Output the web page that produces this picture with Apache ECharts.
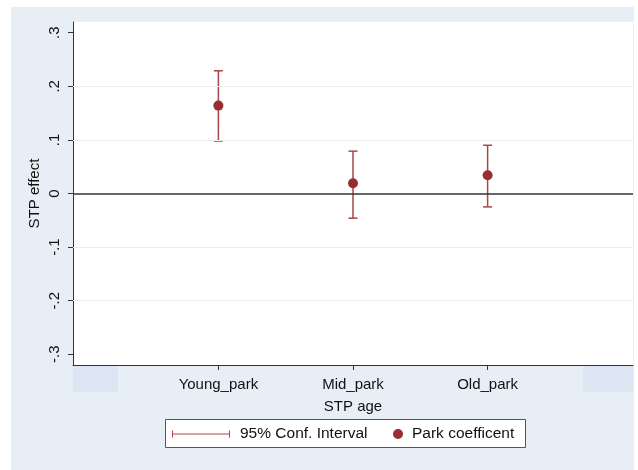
<!DOCTYPE html>
<html>
<head>
<meta charset="utf-8">
<script src="https://cdn.jsdelivr.net/npm/echarts@6/dist/echarts.min.js"></script>
<style>
  html, body { margin: 0; padding: 0; background: #ffffff; }
  #wrap { position: relative; width: 638px; height: 470px; }
  #panel { position: absolute; left: 11px; top: 7px; width: 623px; height: 463px; background: #e8eef6; }
  #chart { position: absolute; left: 0; top: 0; width: 638px; height: 470px; }
</style>
</head>
<body>
<div id="wrap">
  <div id="panel"></div>
  <div id="chart"></div>
</div>
<script>
// Park age groups and their estimated STP effect with 95% confidence bounds
const categories = ['Young_park', 'Mid_park', 'Old_park'];
const xPos = [1, 2, 3];
const coef = [0.164, 0.019, 0.034];
const ciLow = [0.098, -0.046, -0.025];
const ciHigh = [0.229, 0.079, 0.090];
const yTicks = [-0.3, -0.2, -0.1, 0, 0.1, 0.2, 0.3];
const gridVals = [-0.2, -0.1, 0.1, 0.2];

const FONT = 'Liberation Sans, Arial, sans-serif';
const RED = '#962d32';
const CI_RED = '#a9454b';
const FS = 15;

function fmtY(v) {
  const r = Math.round(v * 10) / 10;
  if (r === 0) return '0';
  const s = Math.abs(r).toString().replace(/^0/, '');
  return (r < 0 ? '-' : '') + s;
}

const chart = echarts.init(document.getElementById('chart'), null, { renderer: 'canvas' });

const ciData = xPos.map((x, i) => [x, ciLow[i], ciHigh[i]]);
const pointData = xPos.map((x, i) => [x, coef[i]]);

chart.setOption({
  backgroundColor: 'transparent',
  animation: false,
  textStyle: { fontFamily: FONT },
  grid: {
    left: 73, top: 22, right: 5, bottom: 105,
    show: true, backgroundColor: '#ffffff', borderWidth: 0
  },
  xAxis: {
    type: 'value',
    min: -0.08, max: 4.08,
    name: 'STP age',
    nameLocation: 'middle',
    nameGap: 34,
    nameMoveOverlap: false,
    nameTextStyle: { fontSize: FS, color: '#111', fontFamily: FONT },
    axisLine: { show: true, onZero: false, lineStyle: { color: '#333', width: 1 } },
    axisTick: { show: true, customValues: xPos, length: 5, lineStyle: { color: '#333' } },
    axisLabel: {
      customValues: xPos,
      margin: 12,
      fontSize: FS, color: '#111', fontFamily: FONT,
      formatter: v => categories[Math.round(v) - 1] || ''
    },
    splitLine: { show: false }
  },
  yAxis: {
    type: 'value',
    min: -0.32, max: 0.32,
    name: 'STP effect',
    nameLocation: 'middle',
    nameGap: 31,
    nameMoveOverlap: false,
    nameRotate: 90,
    nameTextStyle: { fontSize: FS, color: '#111', fontFamily: FONT },
    axisLine: { show: true, onZero: false, lineStyle: { color: '#333', width: 1 } },
    axisTick: { show: true, customValues: yTicks, length: 5, lineStyle: { color: '#333' } },
    axisLabel: {
      customValues: yTicks,
      rotate: 90,
      margin: 11,
      fontSize: FS, color: '#111', fontFamily: FONT,
      formatter: fmtY
    },
    splitLine: { show: false }
  },
  graphic: [
    // shaded bands under the plot edges
    { type: 'rect', shape: { x: 73, y: 366, width: 45, height: 26 }, style: { fill: '#dce6f2' }, silent: true },
    { type: 'rect', shape: { x: 583, y: 366, width: 50, height: 26 }, style: { fill: '#dce6f2' }, silent: true },
    // legend frame
    { type: 'rect', shape: { x: 165.5, y: 419.5, width: 360, height: 28 }, style: { fill: '#ffffff', stroke: '#555', lineWidth: 1 }, silent: true }
  ],
  legend: [
    {
      left: 172, top: 426,
      padding: 0,
      itemWidth: 58, itemHeight: 7,
      data: [{ name: '95% Conf. Interval', icon: 'path://M0,0H1V7H0Z M0,3H58V4H0Z M57,0H58V7H57Z' }],
      textStyle: { fontSize: 15.5, color: '#111', fontFamily: FONT, padding: [0, 0, 0, 5] },
      selectedMode: false
    },
    {
      left: 393, top: 426,
      padding: 0,
      itemWidth: 10, itemHeight: 10,
      data: [{ name: 'Park coefficent', icon: 'circle' }],
      textStyle: { fontSize: 15.5, color: '#111', fontFamily: FONT, padding: [0, 0, 0, 4] },
      selectedMode: false
    }
  ],
  series: [
    {
      name: '95% Conf. Interval',
      type: 'custom',
      z: 3,
      itemStyle: { color: CI_RED },
      data: ciData,
      renderItem: function (params, api) {
        const x = api.value(0);
        const lo = api.coord([x, api.value(1)]);
        const hi = api.coord([x, api.value(2)]);
        const half = 4.5;
        const st = { stroke: CI_RED, lineWidth: 1.5 };
        return {
          type: 'group',
          children: [
            { type: 'line', shape: { x1: lo[0], y1: lo[1], x2: hi[0], y2: hi[1] }, style: st },
            { type: 'line', shape: { x1: lo[0] - half, y1: lo[1], x2: lo[0] + half, y2: lo[1] }, style: st },
            { type: 'line', shape: { x1: hi[0] - half, y1: hi[1], x2: hi[0] + half, y2: hi[1] }, style: st }
          ]
        };
      },
      markLine: {
        silent: true,
        symbol: 'none',
        label: { show: false },
        data: gridVals.map(v => ({ yAxis: v, lineStyle: { color: '#ececec', width: 1, type: 'solid' } }))
          .concat([{ yAxis: 0, lineStyle: { color: '#333', width: 1.6, type: 'solid' } }])
      }
    },
    {
      name: 'Park coefficent',
      type: 'scatter',
      z: 4,
      symbol: 'circle',
      symbolSize: 10,
      itemStyle: { color: RED, opacity: 1 },
      data: pointData
    }
  ]
});
</script>
</body>
</html>
